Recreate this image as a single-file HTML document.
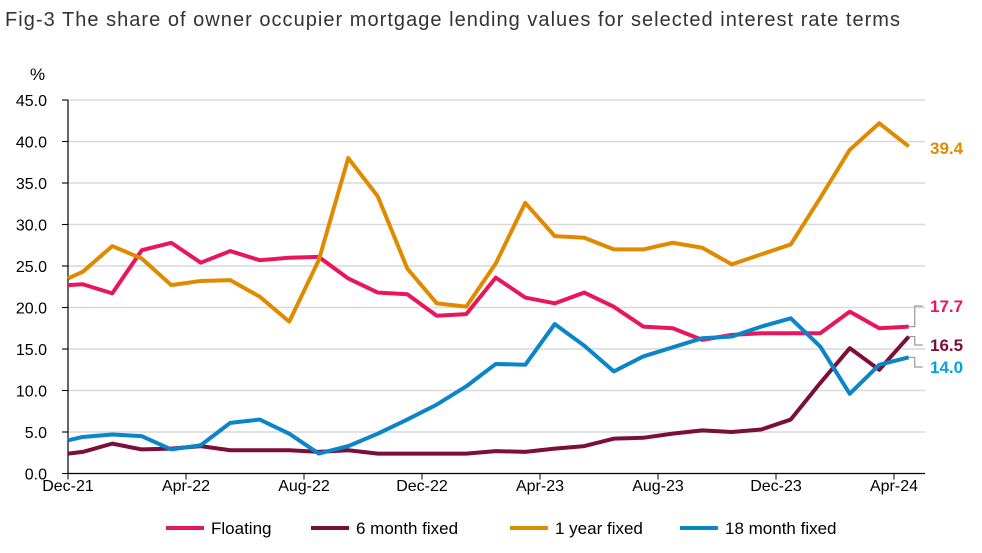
<!DOCTYPE html>
<html><head><meta charset="utf-8"><style>
body{margin:0;background:#fff;font-family:"Liberation Sans",sans-serif;}
svg text{font-family:"Liberation Sans",sans-serif;}
</style></head><body>
<svg id="chart" width="982" height="548" xmlns="http://www.w3.org/2000/svg">
<text x="5" y="26" font-size="20" fill="#333" textLength="895" lengthAdjust="spacing">Fig-3 The share of owner occupier mortgage lending values for selected interest rate terms</text>
<text x="30" y="80" font-size="17" fill="#000">%</text>
<g id="grid"></g><g id="axes"></g><g id="series"></g><g id="labels"></g><g id="legend"></g>
</svg>
<script>
const times=[0,0.5,1.5,2.5,3.5,4.5,5.5,6.5,7.5,8.5,9.5,10.5,11.5,12.5,13.5,14.5,15.5,16.5,17.5,18.5,19.5,20.5,21.5,22.5,23.5,24.5,25.5,26.5,27.5,28.5];
const floating=[22.7,22.8,21.7,26.9,27.8,25.4,26.8,25.7,26.0,26.1,23.5,21.8,21.6,19.0,19.2,23.6,21.2,20.5,21.8,20.1,17.7,17.5,16.1,16.7,16.9,16.9,16.9,19.5,17.5,17.7];
const sixMonth=[2.4,2.6,3.6,2.9,3.0,3.3,2.8,2.8,2.8,2.6,2.8,2.4,2.4,2.4,2.4,2.7,2.6,3.0,3.3,4.2,4.3,4.8,5.2,5.0,5.3,6.5,10.9,15.1,12.5,16.5];
const oneYear=[23.5,24.3,27.4,25.9,22.7,23.2,23.3,21.3,18.3,25.7,38.0,33.4,24.7,20.5,20.1,25.3,32.6,28.6,28.4,27.0,27.0,27.8,27.2,25.2,26.4,27.6,33.2,39.0,42.2,39.4];
const eighteen=[4.0,4.4,4.7,4.5,2.9,3.4,6.1,6.5,4.8,2.4,3.3,4.8,6.5,8.3,10.5,13.2,13.1,18.0,15.4,12.3,14.1,15.2,16.3,16.5,17.7,18.7,15.3,9.6,13.1,14.0];
const yTicks=[0,5,10,15,20,25,30,35,40,45];
const xTickLabels=["Dec-21","Apr-22","Aug-22","Dec-22","Apr-23","Aug-23","Dec-23","Apr-24"];
const xTickMonths=[0,4,8,12,16,20,24,28];
const seriesNames=["Floating","6 month fixed","1 year fixed","18 month fixed"];
const seriesColors=["#e8175d","#7b0f3a","#e08a00","#0a85c8"];
const labelColors=["#e8175d","#7b0f3a","#e08a00","#0aa0e0"];
const endLabelY=[306,345,148,367];

const NS="http://www.w3.org/2000/svg";
const x=t=>68+29.5*t;
const y=v=>473.5-v*8.3;
function mk(tag,attrs,parent,text){const e=document.createElementNS(NS,tag);for(const k in attrs)e.setAttribute(k,attrs[k]);if(text!==undefined)e.textContent=text;document.getElementById(parent).appendChild(e);return e;}
yTicks.forEach(v=>{
  if(v>0){const g=mk('line',{x1:62,x2:925,y1:y(v),y2:y(v),stroke:'#d9d9d9','stroke-width':1.5},'grid');
  
  }
  const t=mk('text',{x:47,y:y(v)+6,'font-size':16,'text-anchor':'end',fill:'#000'},'axes',v.toFixed(1));
  
  
  const tk=mk('line',{x1:62,x2:68,y1:y(v),y2:y(v),stroke:'#000'},'axes');
  
  
});
const ya=mk('line',{x1:68,x2:68,y1:y(45),y2:y(0),stroke:'#000','stroke-width':1.2},'axes');


const xa=mk('line',{x1:68,x2:925,y1:y(0),y2:y(0),stroke:'#000','stroke-width':1.2},'axes');


xTickMonths.forEach((m,i)=>{
  const tk=mk('line',{x1:x(m),x2:x(m),y1:y(0),y2:y(0)+6,stroke:'#000'},'axes');
  
  
  const t=mk('text',{x:x(m),y:491,'font-size':16,'text-anchor':'middle',fill:'#000'},'axes',xTickLabels[i]);
  
  
});
const allSeries=[floating,sixMonth,oneYear,eighteen];
allSeries.forEach((s,i)=>{
  const p=mk('polyline',{points:s.map((v,j)=>x(times[j])+','+y(v)).join(' '),fill:'none',stroke:seriesColors[i],'stroke-width':4,'stroke-linejoin':'round'},'series');
  
  
  const last=s[s.length-1], lx=x(times[times.length-1]), ly=y(last), ty=endLabelY[i];
  if(i!==2){
    const c=mk('polyline',{points:`${lx},${ly} ${lx+6},${ly} ${lx+6},${ty} ${lx+14},${ty}`,fill:'none',stroke:'#999','stroke-width':1.2},'labels');
    
    
  }
  const t=mk('text',{x:930,y:ty+6,'font-size':17,'font-weight':'bold',fill:labelColors[i]},'labels',last.toFixed(1));
  
  
});
const legX=[166,311,510,680];
seriesNames.forEach((n,i)=>{
  const l=mk('line',{x1:legX[i],x2:legX[i]+38,y1:528,y2:528,stroke:seriesColors[i],'stroke-width':4},'legend');
  
  
  const t=mk('text',{x:legX[i]+45,y:534,'font-size':17,fill:'#000'},'legend',n);
  
  
});
</script>
</body></html>
